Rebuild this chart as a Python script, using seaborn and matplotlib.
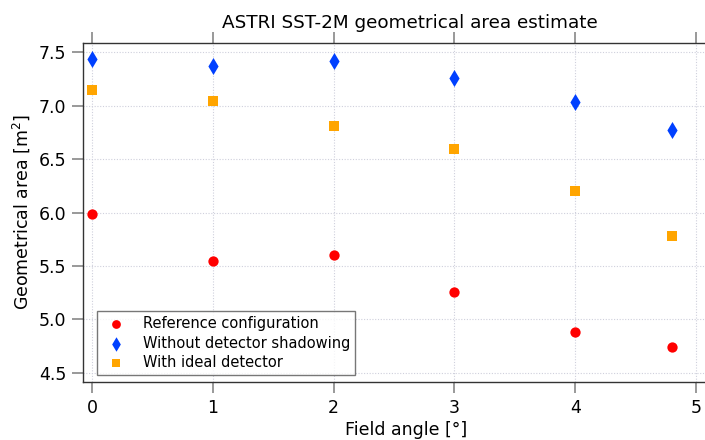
import matplotlib
matplotlib.use("Agg")
import matplotlib.pyplot as plt
import pandas as pd
import seaborn as sns

# Values
field_angle = [0, 1, 2, 3, 4, 4.8]
reference_config = [5.985, 5.55, 5.60, 5.26, 4.88, 4.745]
no_shadowing = [7.44, 7.37, 7.42, 7.255, 7.03, 6.77]
ideal_detector = [7.145, 7.04, 6.81, 6.59, 6.20, 5.78]

labels = ["Reference configuration", "Without detector shadowing", "With ideal detector"]
colors = ["#ff0000", "#0040ff", "#ffa500"]
markers = ["o", "d", "s"]
sizes = [55, 75, 48]

df = pd.DataFrame({
    "angle": field_angle * 3,
    "area": reference_config + no_shadowing + ideal_detector,
    "series": [labels[0]] * 6 + [labels[1]] * 6 + [labels[2]] * 6,
})

sns.set_style("white")
plt.rcParams["font.family"] = ["DejaVu Sans"]
plt.rcParams["text.color"] = "black"
plt.rcParams["axes.labelcolor"] = "black"
plt.rcParams["xtick.color"] = "black"
plt.rcParams["ytick.color"] = "black"

fig = plt.figure(figsize=(7.05, 4.4), dpi=100)
ax = fig.add_axes([0.1177, 0.132, 0.8823, 0.770])

for lab, col, mk, sz in zip(labels, colors, markers, sizes):
    sns.scatterplot(data=df[df["series"] == lab], x="angle", y="area", color=col,
                    marker=mk, s=sz, linewidth=0, label=lab, ax=ax, zorder=3)

ax.set_xlim(-0.075, 5.075)
ax.set_ylim(4.416, 7.584)
ax.set_xticks([0, 1, 2, 3, 4, 5])
ax.set_yticks([4.5, 5.0, 5.5, 6.0, 6.5, 7.0, 7.5])
ax.set_yticklabels(["4.5", "5.0", "5.5", "6.0", "6.5", "7.0", "7.5"])

ax.grid(True, linestyle=(0, (1, 1.5)), color="#cfd0dc", linewidth=0.8)
ax.set_axisbelow(True)

for side in ["left", "top", "bottom"]:
    ax.spines[side].set_color("#333333")
    ax.spines[side].set_linewidth(1.0)
ax.spines["right"].set_visible(False)

ax.tick_params(axis="both", direction="out", length=8, width=1.2, color="#888888",
               labelsize=12.5, labelcolor="black", pad=4)
ax.tick_params(axis="x", top=True, labeltop=False, bottom=True)
ax.tick_params(axis="y", left=True)

ax.set_xlabel("Field angle [°]", fontsize=12.5, labelpad=1)
ax.xaxis.set_label_coords(0.52, -0.115)
ax.set_ylabel("Geometrical area [m$^2$]", fontsize=12.5, labelpad=5)
ax.set_title("ASTRI SST-2M geometrical area estimate", fontsize=13.2, pad=11, x=0.525)

leg = ax.legend(loc="lower left", bbox_to_anchor=(0.022, 0.02), fontsize=10.5,
                frameon=True, fancybox=False, borderpad=0.35, labelspacing=0.3,
                handletextpad=0.8, borderaxespad=0.0, markerscale=0.85)
leg.get_frame().set_edgecolor("#555555")
leg.get_frame().set_linewidth(1.0)

fig.savefig("out.png", dpi=100)
